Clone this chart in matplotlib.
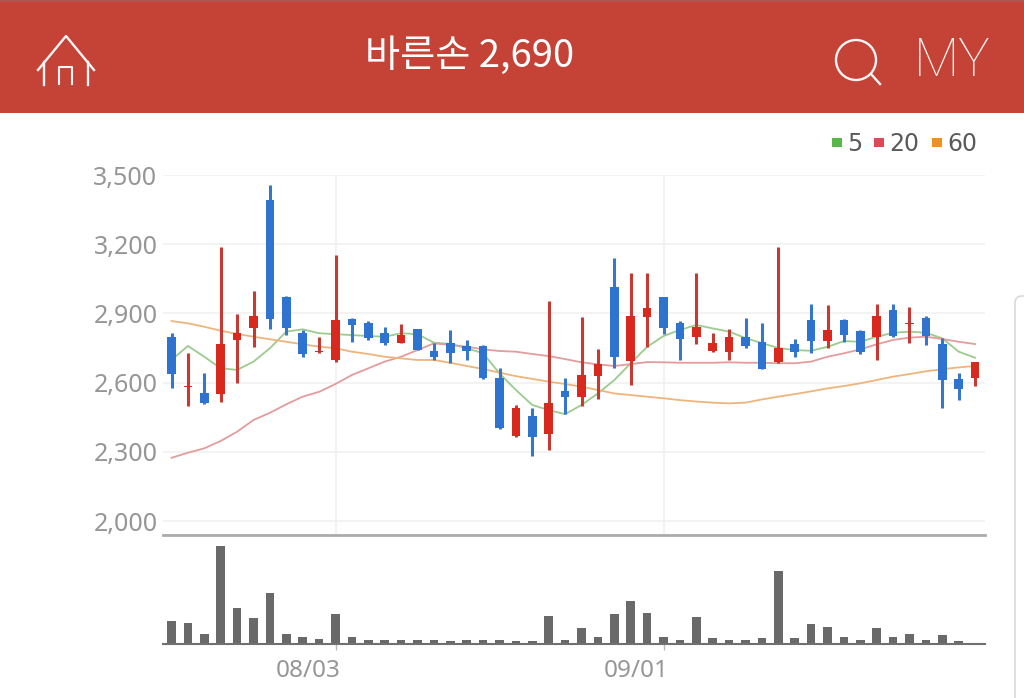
import matplotlib
matplotlib.use("Agg")
import matplotlib.pyplot as plt
from matplotlib.patches import Rectangle, Circle, FancyBboxPatch

title = "바른손 2,690"
legend_names = ["5", "20", "60"]
price_ticks = [2000, 2300, 2600, 2900, 3200, 3500]
date_pos = [10, 30]
date_labels = ["08/03", "09/01"]

opens = [2796, 2580, 2556, 2549, 2785, 2838, 3392, 2972, 2814, 2732,
         2698, 2875, 2857, 2814, 2773, 2831, 2738, 2770, 2759, 2760,
         2619, 2367, 2456, 2377, 2565, 2536, 2630, 3016, 2695, 2886,
         2970, 2857, 2799, 2736, 2734, 2796, 2776, 2688, 2766, 2871,
         2780, 2871, 2825, 2796, 2915, 2855, 2879, 2767, 2614, 2619]
closes = [2637, 2585, 2510, 2766, 2816, 2890, 2874, 2838, 2723, 2738,
          2871, 2850, 2792, 2773, 2806, 2741, 2712, 2730, 2738, 2619,
          2402, 2489, 2365, 2513, 2536, 2633, 2679, 2712, 2890, 2922,
          2838, 2788, 2840, 2770, 2796, 2759, 2660, 2751, 2734, 2780,
          2828, 2806, 2734, 2890, 2803, 2860, 2803, 2611, 2572, 2690]
highs = [2814, 2727, 2640, 3186, 2897, 2998, 3455, 2975, 2828, 2796,
         3153, 2879, 2868, 2840, 2854, 2831, 2773, 2828, 2785, 2763,
         2662, 2503, 2489, 2952, 2621, 2883, 2747, 3140, 3074, 3074,
         2972, 2868, 3074, 2814, 2832, 2879, 2860, 3186, 2789, 2941,
         2936, 2876, 2828, 2941, 2941, 2929, 2889, 2792, 2640, 2690]
lows = [2575, 2498, 2507, 2517, 2597, 2756, 2831, 2805, 2712, 2727,
        2688, 2777, 2785, 2762, 2770, 2741, 2698, 2686, 2698, 2614,
        2399, 2365, 2283, 2308, 2463, 2499, 2529, 2662, 2590, 2753,
        2811, 2698, 2767, 2734, 2698, 2749, 2658, 2686, 2710, 2730,
        2749, 2775, 2724, 2698, 2799, 2773, 2763, 2489, 2525, 2585]

ma5 = [2698, 2759, 2712, 2662, 2655, 2691, 2749, 2821, 2831, 2814,
       2810, 2806, 2802, 2799, 2814, 2810, 2773, 2768, 2749, 2727,
       2640, 2568, 2503, 2481, 2463, 2503, 2553, 2611, 2684, 2755,
       2802, 2828, 2850, 2835, 2821, 2793, 2771, 2750, 2741, 2738,
       2755, 2780, 2777, 2799, 2816, 2821, 2816, 2792, 2734, 2708]
ma20 = [2274, 2296, 2315, 2347, 2387, 2438, 2469, 2506, 2539, 2560,
        2594, 2633, 2662, 2691, 2712, 2741, 2770, 2763, 2756, 2744,
        2737, 2734, 2724, 2715, 2702, 2688, 2679, 2672, 2680, 2689,
        2688, 2686, 2686, 2686, 2688, 2686, 2686, 2684, 2684, 2691,
        2712, 2727, 2744, 2766, 2785, 2795, 2799, 2789, 2777, 2767]
ma60 = [2867, 2857, 2842, 2825, 2811, 2799, 2788, 2777, 2766, 2756,
        2749, 2734, 2724, 2712, 2705, 2698, 2698, 2686, 2672, 2659,
        2643, 2628, 2616, 2604, 2594, 2582, 2568, 2553, 2546, 2539,
        2532, 2524, 2518, 2513, 2510, 2513, 2527, 2539, 2550, 2562,
        2575, 2585, 2597, 2611, 2626, 2637, 2649, 2658, 2666, 2672]
volume = [22.7, 21, 10, 98, 36, 25.7, 50.7, 9.7, 6.7, 5,
          30, 6.7, 3.7, 3.7, 3.7, 3.7, 3.7, 2.3, 3.7, 3.7,
          3.7, 2.3, 2.3, 27.3, 3.7, 15.7, 6.7, 30, 43, 31,
          6.7, 3.7, 27, 5.3, 3.7, 3.7, 5.3, 73, 5.3, 20,
          17, 6.7, 3.7, 15.7, 6.7, 9.7, 4, 8.3, 2.3, 0]

RED = "#D9291F"
BLUE = "#2D73CF"
RED_WICK = "#C63A33"
BLUE_WICK = "#3677C9"
GREY_TEXT = "#969696"
WIDTH, HEIGHT = 1024, 698


def box(x0, y0, x1, y1):
    # pixel box, measured from the top left of the picture
    return [x0 / WIDTH, 1 - y1 / HEIGHT, (x1 - x0) / WIDTH, (y1 - y0) / HEIGHT]


fig = plt.figure(figsize=(10.24, 6.98), dpi=100)

# background furniture in picture pixels
bg = fig.add_axes([0, 0, 1, 1], zorder=0)
bg.set_xlim(0, WIDTH)
bg.set_ylim(HEIGHT, 0)
bg.axis("off")
bg.add_patch(Rectangle((0, 0), WIDTH, 113, color="#C44236", lw=0))
bg.add_patch(Rectangle((0, 0), WIDTH, 2, color="#B0564E", lw=0))
bg.add_patch(FancyBboxPatch((1021, 302), 40, 500, boxstyle="round,pad=6,rounding_size=7",
                            fc="white", ec="#DADADA", lw=1.2))
bg.text(470, 56, title, color="white", fontsize=27.5, ha="center", va="center",
        family=["Noto Sans CJK KR", "DejaVu Sans"], weight="medium")
bg.plot([38, 66, 94], [70, 36, 70], color="white", lw=1.7, alpha=0.95)
bg.plot([44, 44], [62, 85], color="white", lw=1.7, alpha=0.95)
bg.plot([88, 88], [62, 85], color="white", lw=1.7, alpha=0.95)
bg.plot([59, 59, 72, 72], [84, 67, 67, 84], color="white", lw=1.5, alpha=0.95)
bg.add_patch(Circle((856, 60), 20, fc="none", ec="white", lw=1.7, alpha=0.95))
bg.plot([871, 880], [74, 84], color="white", lw=1.7, alpha=0.95)
bg.text(952, 61, "MY", color="white", fontsize=38, ha="center", va="center",
        family=["Roboto", "Noto Sans"], weight="light", alpha=0.95)

# price panel
ax = fig.add_axes(box(163, 175, 985, 535), zorder=1)
ax.patch.set_alpha(0)
days = list(range(len(opens)))
px_per_day = 16.4
ax.set_xlim((163 - 171.5) / px_per_day, (985 - 171.5) / px_per_day)
ax.set_ylim(2000 - 14 * 300 / 69.2, 3500)
ax.set_yticks(price_ticks)
ax.set_yticklabels([format(t, ",") for t in price_ticks], color=GREY_TEXT, fontsize=18,
                   family="Noto Sans")
ax.set_xticks(date_pos)
ax.set_xticklabels([])
ax.tick_params(length=0, pad=4)
ax.grid(True, color="#F0F0F0", lw=1.1)
ax.set_axisbelow(True)
for s in ["top", "left", "right"]:
    ax.spines[s].set_visible(False)
ax.spines["bottom"].set_color("#ABABAB")
ax.spines["bottom"].set_linewidth(2)

ax.plot(days, ma5, color="#9CCB8E", lw=1.3, zorder=2)
ax.plot(days, ma20, color="#E39C9C", lw=1.3, zorder=2)
ax.plot(days, ma60, color="#EDB57C", lw=1.3, zorder=2)

for i in days:
    up = closes[i] > opens[i]
    ax.vlines(i, lows[i], highs[i], color=RED_WICK if up else BLUE_WICK, lw=2.2, zorder=3,
              clip_on=False)
    low_body = min(opens[i], closes[i])
    ax.bar(i, abs(closes[i] - opens[i]), bottom=low_body, width=0.52,
           color=RED if up else BLUE, zorder=4)

# legend drawn by hand, it sits over the top right of the panel
legend_cols = ["#55B848", "#E0485A", "#EE8F2C"]
square_x = [832, 874, 932]
label_x = [847, 889, 947]
for n, col, sx, lx in zip(legend_names, legend_cols, square_x, label_x):
    bg.add_patch(Rectangle((sx, 138), 10, 9, color=col, lw=0))
    bg.text(lx, 144, n, color="#5A5A5A", fontsize=17, ha="left", va="center",
            family="DejaVu Sans")

# volume panel
ax2 = fig.add_axes(box(163, 540, 985, 643.5), zorder=1)
ax2.patch.set_alpha(0)
ax2.set_xlim(ax.get_xlim())
ax2.set_ylim(0, 103.5)
ax2.bar(days, volume, width=0.52, color="#696969")
ax2.set_yticks([])
ax2.set_xticks(date_pos)
ax2.set_xticklabels([])
for p, lab in zip(date_pos, date_labels):
    ax2.annotate(lab, (p, 0), xytext=(4, -11), textcoords="offset points", ha="right", va="top",
                 color=GREY_TEXT, fontsize=17.5, family="Noto Sans", annotation_clip=False)
ax2.tick_params(axis="x", length=4, width=1, color="#BBBBBB")
for s in ["top", "left", "right"]:
    ax2.spines[s].set_visible(False)
ax2.spines["bottom"].set_color("#707070")
ax2.spines["bottom"].set_linewidth(1.5)

fig.savefig("out.png", dpi=100)
